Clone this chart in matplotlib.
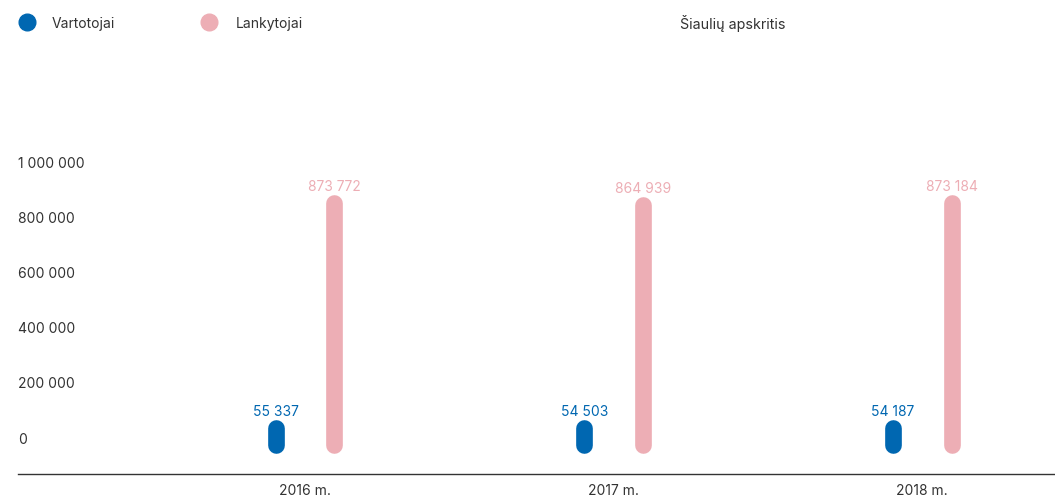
from matplotlib import pyplot as plt
from matplotlib.lines import Line2D
import numpy as np

# Data
years = ["2016 m.", "2017 m.", "2018 m."]
vartotojai = [55337, 54503, 54187]
lankytojai = [873772, 864939, 873184]
series_names = ["Vartotojai", "Lankytojai"]
region = "Šiaulių apskritis"
yticks = [0, 200000, 400000, 600000, 800000, 1000000]

BLUE = "#0067b1"
PINK = "#edaeb5"
TEXT = "#333333"

W, H = 1055, 499
plt.rcParams['font.family'] = ['Inter', 'DejaVu Sans']

def fmt(v):
    return f"{v:,}".replace(",", " ")

fig = plt.figure(figsize=(W / 100, H / 100), dpi=100)
ax = fig.add_axes([18 / W, (H - 474) / H, 1 - 18 / W, (474 - 60) / H])

ymin, ymax = -130900, 1374500
ax.set_ylim(ymin, ymax)
ax.set_xlim(-0.93, 2.43)

# data units per pixel, for the round caps
px = (ymax - ymin) / (474 - 60)
cap = 5 * px
base = -7 * px

x = np.arange(len(years))
off = 0.095
for xs, vals, col in [(x - off, vartotojai, BLUE), (x + off, lankytojai, PINK)]:
    for xi, v in zip(xs, vals):
        ax.plot([xi, xi], [base, v - cap], color=col, lw=12,
                solid_capstyle='round', zorder=2)
        ax.text(xi, v + 4 * px, fmt(v), ha='center', va='bottom',
                fontsize=10, color=col)

ax.set_yticks(yticks)
ax.set_yticklabels([fmt(t) for t in yticks])
ax.tick_params(axis='y', length=0, pad=0, labelsize=10, labelcolor=TEXT)
for lab in ax.get_yticklabels():
    lab.set_horizontalalignment('left')

ax.set_xticks(x)
ax.set_xticklabels(years)
ax.tick_params(axis='x', length=0, pad=7, labelsize=10, labelcolor=TEXT)

for s in ['top', 'right', 'left']:
    ax.spines[s].set_visible(False)
ax.spines['bottom'].set_color(TEXT)
ax.spines['bottom'].set_linewidth(1)

# Legend and region title
for mx, tx, name, col in [(27, 52, series_names[0], BLUE), (209, 236, series_names[1], PINK)]:
    fig.add_artist(Line2D([mx / W], [1 - 22 / H], marker='o', markersize=12,
                          color=col, linestyle='none'))
    fig.text(tx / W, 1 - 24 / H, name, ha='left', va='center', fontsize=10, color=TEXT)
fig.text(680 / W, 1 - 24 / H, region, ha='left', va='center', fontsize=10.3, color=TEXT)

fig.savefig("out.png", dpi=100)
